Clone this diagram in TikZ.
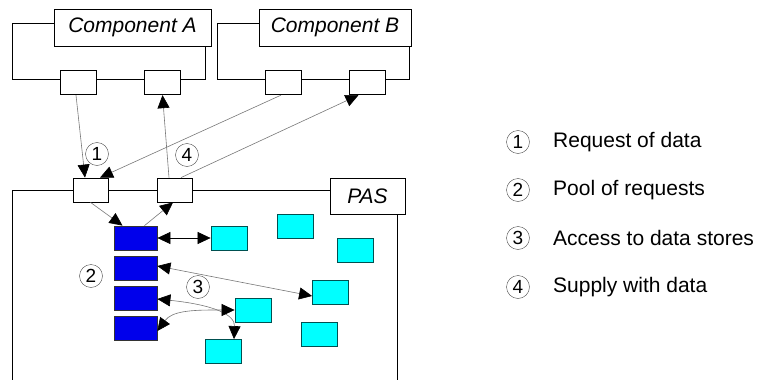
\documentclass[tikz,border=0pt]{standalone}
\usepackage{fontspec}
\setmainfont{Liberation Sans}
\usetikzlibrary{arrows.meta}
\definecolor{qblue}{RGB}{0,0,235}
\definecolor{qcyan}{RGB}{0,255,255}
\definecolor{qcyanline}{RGB}{0,80,80}
\definecolor{qgray}{RGB}{120,120,120}
\tikzset{
  frame/.style={draw=black, line width=0.8pt},
  compbox/.style={draw=black, line width=0.8pt, fill=white, inner sep=0pt, minimum height=37pt, font=\fontsize{21}{25}\selectfont\itshape},
  port/.style={draw=black, line width=0.8pt, fill=white, inner sep=0pt, minimum width=36pt, minimum height=24.5pt},
  pool/.style={draw=black!80, line width=0.8pt, fill=qblue, inner sep=0pt, minimum width=43pt, minimum height=24pt},
  store/.style={draw=qcyanline, line width=0.8pt, fill=qcyan, inner sep=0pt, minimum width=36pt, minimum height=24pt},
  num/.style={circle, draw=black!70, line width=0.4pt, fill=white, inner sep=0pt, minimum size=23pt, font=\fontsize{19}{21}\selectfont},
  legtext/.style={anchor=west, inner sep=0pt, font=\fontsize{21}{25}\selectfont},
  tip/.tip={Triangle[length=13pt,width=12pt,color=black]},
  conn/.style={draw=qgray, line width=0.6pt, -tip},
  dconn/.style={draw=qgray, line width=0.6pt, tip-tip},
}
\begin{document}
\begin{tikzpicture}[x=1pt,y=-1pt]
\useasboundingbox (0,0) rectangle (761,380);
% component frames
\draw[frame] (54,23) -- (12,23) -- (12,79) -- (205,79) -- (205,46);
\draw[frame] (259,23) -- (217,23) -- (217,79) -- (409,79) -- (409,46);
\node[compbox, minimum width=157pt] (ca) at (132.5,27.5) {Component A};
\node[compbox, minimum width=152pt] (cb) at (335,27.5) {Component B};
\node[port] (pa1) at (78.5,82.5) {};
\node[port] (pa2) at (162.5,82.5) {};
\node[port] (pb1) at (283,82.5) {};
\node[port] (pb2) at (367.5,82.5) {};
% PAS frame
\draw[frame] (12,380) -- (12,190) -- (330,190);
\draw[frame] (397,214) -- (397,380);
\node[compbox, minimum width=75pt, minimum height=36pt] (pas) at (367.5,196) {PAS};
\node[port, minimum width=35pt, minimum height=24pt] (pp1) at (90.5,190) {};
\node[port, minimum width=35pt, minimum height=24pt] (pp2) at (175,190) {};
% pool of requests
\node[pool] (b1) at (135.5,238) {};
\node[pool] (b2) at (135.5,268) {};
\node[pool] (b3) at (135.5,298) {};
\node[pool] (b4) at (135.5,328) {};
% data stores
\node[store] (s1) at (229,238) {};
\node[store] (s2) at (295,226) {};
\node[store] (s3) at (355,250) {};
\node[store] (s4) at (330.5,292) {};
\node[store] (s5) at (253,310) {};
\node[store] (s6) at (319,334) {};
\node[store] (s7) at (223,351.5) {};
% connectors outside
\draw[conn] ([xshift=-2.5pt]pa1.south) -- ([xshift=-5.5pt]pp1.north);
\draw[conn] ([xshift=-2pt]pb1.south) -- ([xshift=9.5pt]pp1.north);
\draw[conn] ([xshift=-6pt]pp2.north) -- (pa2.south);
\draw[conn] ([xshift=6pt]pp2.north) -- ([xshift=-9pt]pb2.south);
% inside PAS
\draw[conn] (pp1.south) -- ([xshift=-13pt]b1.north);
\draw[conn] ([xshift=9pt]b1.north) -- ([xshift=-2pt]pp2.south);
\draw[dconn, draw=black] (b1.east) -- (s1.west);
\draw[dconn] ([yshift=2pt]b2.east) -- ([yshift=-4pt]s4.west);
\draw[dconn] ([yshift=-1pt]b3.east) .. controls (215,305) and (235,315) .. ([xshift=11pt]s7.north);
\draw[dconn] ([yshift=-3pt]b4.east) .. controls (172,311) and (192,310) .. (215,310) -- (s5.west);
% numbers
\node[num] (n1) at (97,154) {1};
\node[num] (n4) at (187,155) {4};
\node[num] (n2) at (91,276) {2};
\node[num] (n3) at (198,287) {3};
% legend
\node[num] (l1) at (518,142) {1};
\node[num] (l2) at (518,190) {2};
\node[num] (l3) at (518,238) {3};
\node[num] (l4) at (518,287) {4};
\node[legtext] (t1) at (553,142) {Request of data};
\node[legtext] (t2) at (553,190) {Pool of requests};
\node[legtext] (t3) at (553,238) {Access to data stores};
\node[legtext] (t4) at (553,287) {Supply with data};
\end{tikzpicture}
\end{document}
